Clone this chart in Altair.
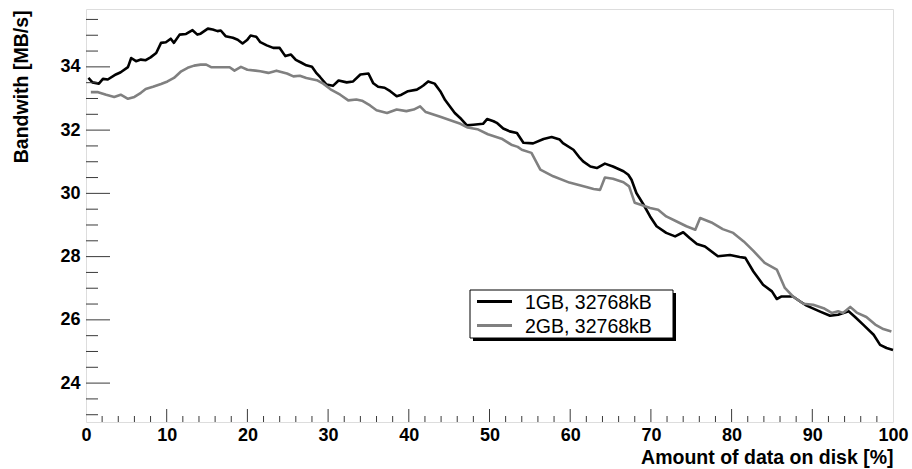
import altair as alt
import pandas as pd

# ---------------- data ----------------
series_names = ["1GB, 32768kB", "2GB, 32768kB"]
series_colors = ["#000000", "#808080"]

black_x = [0.3, 0.8, 1.6, 2.1, 2.7, 3.7, 4.3, 5.2, 5.6, 6.2, 6.8, 7.4, 8.0, 8.7, 9.3, 9.9,
           10.5, 10.9, 11.6, 12.4, 13.2, 13.8, 14.2, 15.1, 15.7, 16.3, 16.7, 17.3, 18.2,
           18.8, 19.4, 20.0, 20.4, 21.1, 21.6, 22.4, 23.2, 24.0, 24.7, 25.4, 26.0, 26.7,
           27.3, 28.0, 28.5, 29.0, 29.8, 30.6, 31.3, 32.3, 33.1, 34.0, 35.0, 35.6, 36.2,
           37.0, 37.7, 38.5, 39.1, 39.9, 41.0, 41.4, 41.8, 42.4, 43.2, 43.9, 44.5, 45.7,
           46.5, 47.2, 48.0, 49.2, 49.7, 50.5, 50.9, 51.7, 52.5, 53.4, 54.2, 55.4, 56.7,
           57.7, 58.7, 59.1, 60.4, 61.2, 61.6, 62.5, 63.3, 64.3, 65.3, 66.6, 67.2, 67.6,
           68.2, 69.1, 69.9, 70.7, 71.9, 73.0, 74.0, 74.8, 75.7, 76.7, 78.3, 79.8, 81.0,
           81.7, 82.7, 83.9, 85.0, 85.6, 86.2, 87.6, 88.5, 89.3, 90.9, 92.2, 93.2, 94.5,
           95.3, 96.3, 97.6, 98.4, 99.2, 100.0]
black_y = [33.65, 33.51, 33.47, 33.62, 33.60, 33.76, 33.83, 33.99, 34.28, 34.18, 34.23,
           34.21, 34.30, 34.44, 34.76, 34.78, 34.89, 34.76, 35.02, 35.04, 35.16, 35.02,
           35.05, 35.21, 35.18, 35.13, 35.15, 34.97, 34.92, 34.86, 34.74, 34.86, 34.99,
           34.95, 34.78, 34.68, 34.60, 34.60, 34.34, 34.39, 34.22, 34.13, 34.05, 34.00,
           33.82, 33.68, 33.44, 33.40, 33.57, 33.51, 33.54, 33.76, 33.79, 33.48, 33.37,
           33.34, 33.23, 33.07, 33.12, 33.23, 33.28, 33.34, 33.41, 33.54, 33.47, 33.23,
           32.95, 32.54, 32.35, 32.15, 32.17, 32.20, 32.35, 32.28, 32.23, 32.05, 31.96,
           31.91, 31.60, 31.58, 31.72, 31.78, 31.70, 31.59, 31.38, 31.12, 31.01, 30.85,
           30.80, 30.94, 30.85, 30.70, 30.59, 30.43, 30.01, 29.64, 29.27, 28.96, 28.75,
           28.64, 28.77, 28.59, 28.40, 28.32, 28.01, 28.05, 27.99, 27.96, 27.53, 27.11,
           26.90, 26.66, 26.74, 26.74, 26.58, 26.45, 26.27, 26.13, 26.16, 26.27, 26.09,
           25.85, 25.53, 25.21, 25.11, 25.05]

gray_x = [0.6, 1.5, 2.5, 3.5, 4.3, 5.2, 6.0, 6.8, 7.4, 8.3, 9.3, 10.1, 10.9, 11.8, 12.6,
          13.4, 14.2, 14.9, 15.5, 16.5, 17.8, 18.4, 19.2, 20.0, 21.0, 21.6, 22.6, 23.6,
          24.9, 25.7, 26.5, 27.3, 28.6, 29.4, 30.3, 31.5, 32.5, 33.5, 34.2, 35.2, 36.0,
          37.3, 38.5, 39.7, 40.6, 41.4, 42.1, 43.9, 45.5, 46.4, 47.3, 48.5, 49.8, 51.5,
          52.7, 53.5, 54.0, 55.2, 56.3, 57.9, 59.9, 62.0, 62.9, 63.7, 64.3, 65.3, 66.6,
          67.3, 68.0, 69.1, 69.9, 70.9, 71.9, 73.2, 74.4, 75.5, 76.1, 77.5, 78.9, 80.2,
          81.5, 82.7, 84.1, 85.6, 86.6, 87.6, 88.9, 90.1, 91.4, 92.4, 93.2, 93.8, 94.7,
          95.5, 96.7, 97.8, 98.8, 99.8]
gray_y = [33.20, 33.20, 33.12, 33.05, 33.12, 32.99, 33.05, 33.18, 33.30, 33.37, 33.46,
          33.54, 33.65, 33.86, 33.97, 34.04, 34.07, 34.07, 33.99, 33.99, 33.99, 33.88,
          34.00, 33.91, 33.88, 33.86, 33.81, 33.88, 33.79, 33.70, 33.72, 33.65, 33.58,
          33.47, 33.29, 33.12, 32.94, 32.97, 32.93, 32.78, 32.63, 32.54, 32.65, 32.60,
          32.65, 32.75, 32.57, 32.42, 32.28, 32.20, 32.08, 32.03, 31.87, 31.73, 31.54,
          31.47, 31.38, 31.28, 30.75, 30.54, 30.34, 30.20, 30.14, 30.11, 30.50, 30.46,
          30.35, 30.22, 29.70, 29.61, 29.54, 29.48, 29.27, 29.11, 28.96, 28.85, 29.22,
          29.08, 28.87, 28.75, 28.48, 28.18, 27.80, 27.59, 27.01, 26.74, 26.51, 26.48,
          26.37, 26.22, 26.27, 26.22, 26.41, 26.23, 26.09, 25.85, 25.71, 25.63]

x_labels = list(range(0, 101, 10))
y_labels = [24, 26, 28, 30, 32, 34]
x_minor = [v for v in range(2, 100, 2) if v % 10 != 0]
y_minor = [23.0 + 0.5 * i for i in range(26) if (23.0 + 0.5 * i) not in y_labels and (23.0 + 0.5 * i) % 2 != 0]

# ---------------- layout ----------------
W, H = 807, 413
FONT = "Liberation Sans"
FRAME = "#3a3a3a"

df = pd.concat([
    pd.DataFrame({"x": black_x, "y": black_y, "series": series_names[0]}),
    pd.DataFrame({"x": gray_x, "y": gray_y, "series": series_names[1]}),
])

xscale = alt.Scale(domain=[0, 100], nice=False, zero=False)
yscale = alt.Scale(domain=[22.77, 35.83], nice=False, zero=False)

x_axis = alt.Axis(values=x_labels, ticks=False, domain=False, grid=False,
                  labelFont=FONT, labelFontWeight="bold", labelFontSize=18,
                  labelColor="black", labelPadding=4, labelFlush=False, labelOverlap=False,
                  title="Amount of data on disk [%]", titleFont=FONT, titleFontWeight="bold",
                  titleFontSize=19.5, titleColor="black", titleAlign="right",
                  titleAnchor="end", titleX=W, titleY=41, titleBaseline="alphabetic")
y_axis = alt.Axis(values=y_labels, ticks=False, domain=False, grid=False,
                  labelFont=FONT, labelFontWeight="bold", labelFontSize=18,
                  labelColor="black", labelPadding=6, labelOverlap=False,
                  title="Bandwith [MB/s]", titleFont=FONT, titleFontWeight="bold",
                  titleFontSize=19.5, titleColor="black", titleAngle=-90,
                  titleAlign="right", titleBaseline="middle", titleX=-65, titleY=1)

X = alt.X("x:Q", scale=xscale, axis=x_axis)
Y = alt.Y("y:Q", scale=yscale, axis=y_axis)

lines = alt.Chart(df).mark_line(strokeWidth=2.6, strokeJoin="round").encode(
    x=X, y=Y,
    color=alt.Color("series:N", scale=alt.Scale(domain=series_names, range=series_colors),
                    legend=None),
    order="x:Q",
)

# inward ticks
y_major = alt.Chart(pd.DataFrame({"y": y_labels})).mark_rule(color=FRAME, strokeWidth=1).encode(
    y=Y, x=alt.value(0), x2=alt.value(24))
y_min = alt.Chart(pd.DataFrame({"y": y_minor})).mark_rule(color=FRAME, strokeWidth=1).encode(
    y=Y, x=alt.value(0), x2=alt.value(12))
x_major = alt.Chart(pd.DataFrame({"x": x_labels[1:-1]})).mark_rule(color=FRAME, strokeWidth=1).encode(
    x=X, y=alt.value(H), y2=alt.value(H - 13))
x_min = alt.Chart(pd.DataFrame({"x": x_minor})).mark_rule(color=FRAME, strokeWidth=1).encode(
    x=X, y=alt.value(H), y2=alt.value(H - 6))

# legend box (with drop shadow)
shadow = alt.Chart(pd.DataFrame({"a": [0]})).mark_rect(color="black").encode(
    x=alt.value(387), x2=alt.value(590), y=alt.value(284), y2=alt.value(332))
box = alt.Chart(pd.DataFrame({"a": [0]})).mark_rect(fill="white", stroke="black", strokeWidth=1).encode(
    x=alt.value(384), x2=alt.value(587), y=alt.value(281), y2=alt.value(329))

legend_layers = []
row_y = [292.5, 316.5]
for name, col, ry in zip(series_names, series_colors, row_y):
    legend_layers.append(
        alt.Chart(pd.DataFrame({"a": [0]})).mark_rule(color=col, strokeWidth=3).encode(
            x=alt.value(391), x2=alt.value(426), y=alt.value(ry)))
    legend_layers.append(
        alt.Chart(pd.DataFrame({"a": [0]})).mark_text(
            align="left", baseline="middle", font=FONT, fontSize=19.5, color="black").encode(
            x=alt.value(439), y=alt.value(ry + 1), text=alt.value(name)))

chart = alt.layer(lines, y_major, y_min, x_major, x_min, shadow, box, *legend_layers).properties(
    width=W, height=H,
    autosize=alt.AutoSizeParams(type="none"),
    padding={"left": 86, "top": 9, "right": 19, "bottom": 47},
).configure_view(stroke=FRAME, strokeWidth=1.2).configure(background="white")

chart.save("out.html", embed_options={"renderer": "svg", "actions": False})
